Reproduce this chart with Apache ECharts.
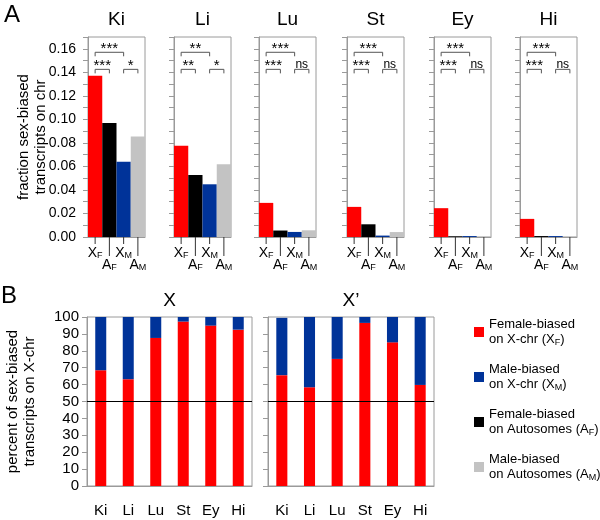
<!DOCTYPE html>
<html><head><meta charset="utf-8">
<script src="https://cdn.jsdelivr.net/npm/echarts@6/dist/echarts.min.js"></script>
<style>html,body{margin:0;padding:0;background:#fff}#c{width:600px;height:520px}</style>
</head><body><div id="c"></div>
<script>
// ---------- data ----------
const tissues = ['Ki', 'Li', 'Lu', 'St', 'Ey', 'Hi'];
const groups = ['XF', 'AF', 'XM', 'AM'];
const valXF = [0.137, 0.0775, 0.029, 0.0256, 0.0245, 0.0154];
const valAF = [0.097, 0.0527, 0.0055, 0.0108, 0.0006, 0.0008];
const valXM = [0.064, 0.0448, 0.0043, 0.0012, 0.0008, 0.0008];
const valAM = [0.0855, 0.0619, 0.0057, 0.0042, 0.0004, 0.0004];
const sigXFvsXM = ['***', '**', '***', '***', '***', '***'];
const sigXFvsAF = ['***', '**', '***', '***', '***', '***'];
const sigXMvsAM = ['*', '*', 'ns', 'ns', 'ns', 'ns'];
const bracketLevels = [0.157, 0.1425];
const pctFemaleX = [68.5, 63.2, 87.6, 97.3, 94.9, 92.5];
const pctMaleX = [31.5, 36.8, 12.4, 2.7, 5.1, 7.5];
const pctFemaleXp = [65.6, 58.5, 75.2, 96.5, 85.0, 59.8];
const pctMaleXp = [33.9, 41.5, 24.8, 3.5, 15.0, 40.2];
const legendText = {
  XF: ['Female-biased', 'on X-chr (X', 'F'],
  XM: ['Male-biased', 'on X-chr (X', 'M'],
  AF: ['Female-biased', 'on Autosomes (A', 'F'],
  AM: ['Male-biased', 'on Autosomes (A', 'M']
};
const colors = { XF: '#ff0000', AF: '#000000', XM: '#003399', AM: '#c3c3c3' };
const seriesVals = { XF: valXF, AF: valAF, XM: valXM, AM: valAM };

// ---------- layout ----------
const aLeft = [88, 174, 259, 347, 434, 520];
const aWidth = 57, aTop = 37, aHeight = 200;
const bLeft = [87, 268], bWidth = [165, 166], bTop = 317, bHeight = 169;
const gray = '#9a9a9a';
const font = 'Liberation Sans, Arial, sans-serif';

const chart = echarts.init(document.getElementById('c'));
const grid = [], xAxis = [], yAxis = [], series = [], graphic = [];

const subFmt = v => '{b|' + v[0] + '}{s|' + v[1] + '}';
const subRich = {
  b: { fontSize: 14, fontFamily: font, color: '#000', verticalAlign: 'bottom', lineHeight: 16 },
  s: { fontSize: 9, fontFamily: font, color: '#000', verticalAlign: 'bottom', lineHeight: 14 }
};

tissues.forEach((t, i) => {
  grid.push({ left: aLeft[i], top: aTop, width: aWidth, height: aHeight, show: true, borderColor: gray, borderWidth: 1, containLabel: false });
  xAxis.push({
    gridIndex: i, type: 'category', data: groups,
    axisLine: { lineStyle: { color: gray } },
    axisTick: { show: false },
    axisLabel: { interval: 0, margin: 7, formatter: (v, idx) => idx % 2 === 0 ? subFmt(v) : '', rich: subRich }
  });
  xAxis.push({
    gridIndex: i, type: 'category', data: groups, position: 'bottom',
    axisLine: { show: false },
    axisTick: { show: false },
    axisLabel: { interval: 0, margin: 19, formatter: (v, idx) => idx % 2 === 1 ? subFmt(v) : '', rich: subRich }
  });
  yAxis.push({
    gridIndex: i, type: 'value', min: 0, max: 0.17, interval: 0.01,
    axisLine: { show: true, lineStyle: { color: gray } },
    axisTick: { show: true, length: 5, lineStyle: { color: gray } },
    splitLine: { show: false },
    axisLabel: {
      show: i === 0, margin: 12, fontSize: 14, fontFamily: font, color: '#000',
      formatter: v => (Math.round(v * 100) % 2 === 0 && v < 0.165) ? v.toFixed(2) : ''
    },
    name: i === 0 ? 'fraction sex-biased\ntranscripts on chr' : '',
    nameLocation: 'middle', nameGap: 39, nameMoveOverlap: false,
    nameTextStyle: { fontSize: 15, fontFamily: font, color: '#000', lineHeight: 17 }
  });
  groups.forEach((g, j) => {
    series.push({
      type: 'bar', name: g, xAxisIndex: 2 * i, yAxisIndex: i, stack: 'a' + i,
      barCategoryGap: '0%', itemStyle: { color: colors[g] }, silent: true,
      data: groups.map((_, k) => k === j ? seriesVals[g][i] : '-')
    });
  });
  // alternating short / long category ticks at band centres
  series.push({
    type: 'custom', xAxisIndex: 2 * i, yAxisIndex: i, clip: false, silent: true,
    encode: { x: 0, y: 1 },
    data: groups.map((_, k) => [k, 0]),
    renderItem: (params, api) => {
      const p = api.coord([api.value(0), 0]);
      const len = params.dataIndex % 2 === 0 ? 7 : 19;
      return { type: 'line', shape: { x1: p[0], y1: p[1], x2: p[0], y2: p[1] + len }, style: { stroke: '#333', lineWidth: 1 } };
    }
  });
  const labels = [sigXFvsXM[i], sigXFvsAF[i], sigXMvsAM[i]];
  series.push({
    type: 'custom', xAxisIndex: 2 * i, yAxisIndex: i, clip: false, silent: true,
    encode: { x: [0, 1], y: 2 },
    data: [[0, 2, bracketLevels[0]], [0, 1, bracketLevels[1]], [2, 3, bracketLevels[1]]],
    renderItem: (params, api) => {
      const a = api.coord([api.value(0), api.value(2)]);
      const b = api.coord([api.value(1), api.value(2)]);
      const lab = labels[params.dataIndex];
      const ns = lab === 'ns';
      return {
        type: 'group', children: [
          { type: 'polyline', shape: { points: [[a[0], a[1] + 4], [a[0], a[1]], [b[0], b[1]], [b[0], b[1] + 4]] },
            style: { stroke: '#555', lineWidth: 1, fill: null } },
          { type: 'text', style: { text: lab, x: (a[0] + b[0]) / 2, y: a[1] + (ns ? 1 : 4), align: 'center', verticalAlign: 'bottom',
            fontSize: ns ? 12 : 15, fontFamily: font, fill: '#000' } }
        ]
      };
    }
  });
  graphic.push({ type: 'text', x: aLeft[i] + aWidth / 2, y: 20, style: { text: t, align: 'center', verticalAlign: 'middle', fontSize: 19, fontFamily: font, fill: '#000' } });
});

// panel B
const bData = [[pctFemaleX, pctMaleX], [pctFemaleXp, pctMaleXp]];
const bTitles = ['X', 'X\u2019'];
[0, 1].forEach(k => {
  const gi = 6 + k;
  grid.push({ left: bLeft[k], top: bTop, width: bWidth[k], height: bHeight, show: true, borderColor: gray, borderWidth: 1 });
  xAxis.push({
    gridIndex: gi, type: 'category', data: tissues,
    axisLine: { lineStyle: { color: gray } },
    axisTick: { length: 4, lineStyle: { color: gray } },
    axisLabel: { margin: 17, fontSize: 15, fontFamily: font, color: '#000' }
  });
  yAxis.push({
    gridIndex: gi, type: 'value', min: 0, max: 100, interval: 10,
    axisLine: { show: true, lineStyle: { color: gray } },
    axisTick: { show: true, length: 5, lineStyle: { color: gray } },
    splitLine: { show: false },
    axisLabel: { show: k === 0, margin: 8, fontSize: 15, fontFamily: font, color: '#000' },
    name: k === 0 ? 'percent of sex-biased\ntranscripts on X-chr' : '',
    nameLocation: 'middle', nameGap: 49, nameMoveOverlap: false,
    nameTextStyle: { fontSize: 15, fontFamily: font, color: '#000', lineHeight: 17 }
  });
  series.push({
    type: 'bar', name: 'XF', xAxisIndex: 12 + k, yAxisIndex: gi, stack: 'b' + k, barWidth: '40%', silent: true,
    itemStyle: { color: colors.XF }, data: bData[k][0],
    markLine: { silent: true, symbol: 'none', label: { show: false }, lineStyle: { color: '#000', width: 1, type: 'solid' }, data: [{ yAxis: 50 }] }
  });
  series.push({
    type: 'bar', name: 'XM', xAxisIndex: 12 + k, yAxisIndex: gi, stack: 'b' + k, barWidth: '40%', silent: true,
    itemStyle: { color: colors.XM }, data: bData[k][1]
  });
  graphic.push({ type: 'text', x: bLeft[k] + bWidth[k] / 2, y: 301, style: { text: bTitles[k], align: 'center', verticalAlign: 'middle', fontSize: 19, fontFamily: font, fill: '#000' } });
});

graphic.push({ type: 'text', x: 4, y: 15, style: { text: 'A', verticalAlign: 'middle', fontSize: 24, fontFamily: font, fill: '#000' } });
graphic.push({ type: 'text', x: 1, y: 296, style: { text: 'B', verticalAlign: 'middle', fontSize: 24, fontFamily: font, fill: '#000' } });

chart.setOption({
  animation: false,
  grid, xAxis, yAxis, series, graphic,
  legend: {
    data: ['XF', 'XM', 'AF', 'AM'], orient: 'vertical', left: 469, top: 313,
    icon: 'rect', itemWidth: 10, itemHeight: 10, itemGap: 16, selectedMode: false,
    formatter: n => '{t|' + legendText[n][0] + '}\n{t|' + legendText[n][1] + '}{s|' + legendText[n][2] + '}{t|)}',
    textStyle: {
      rich: {
        t: { fontSize: 13, fontFamily: font, color: '#000', lineHeight: 15 },
        s: { fontSize: 9, fontFamily: font, color: '#000', lineHeight: 13, verticalAlign: 'bottom' }
      }
    }
  }
});
</script></body></html>
